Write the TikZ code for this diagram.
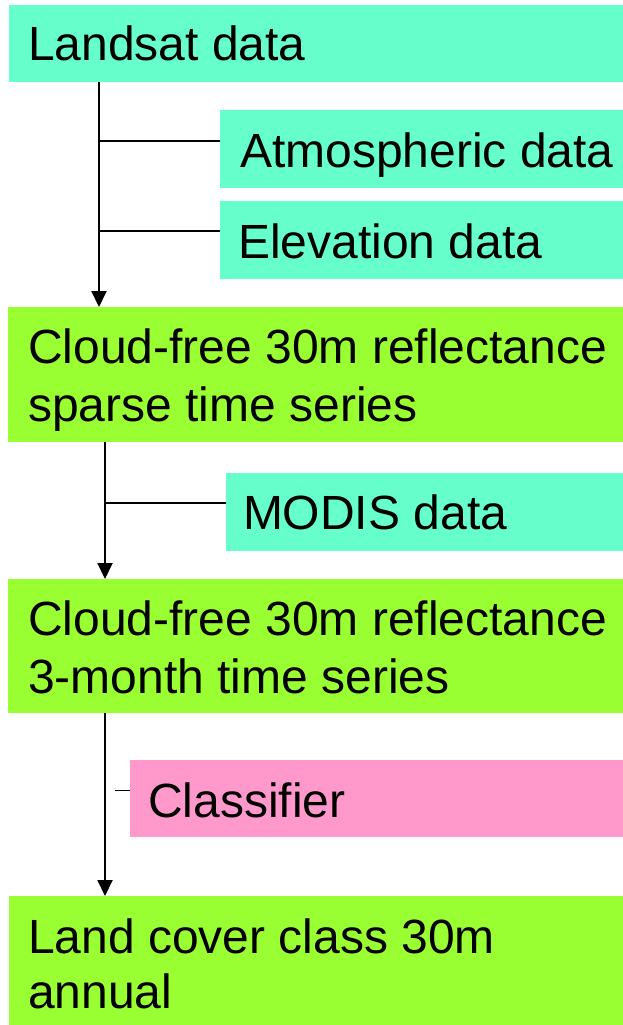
\documentclass[tikz,border=0pt]{standalone}
\usepackage{fontspec}
\setmainfont{Liberation Sans}
\usetikzlibrary{arrows.meta,calc}
\definecolor{aqua}{RGB}{102,255,204}
\definecolor{limec}{RGB}{153,255,51}
\definecolor{pinkc}{RGB}{255,153,204}
\begin{document}
\begin{tikzpicture}[x=1pt,y=-1pt,
  box/.style={rectangle,inner sep=0pt,outer sep=0pt,anchor=north west,draw=none},
  txt/.style={anchor=base west,inner sep=0pt,outer sep=0pt,font=\fontsize{48}{57}\selectfont},
  arr/.style={line width=2pt,-{Triangle[length=16pt,width=15pt]}},
  conn/.style={line width=1.6pt}]
\useasboundingbox (0,0) rectangle (623,1025);
% boxes
\node[box,fill=aqua,minimum width=614pt,minimum height=77pt] (landsat) at (9,5) {};
\node[txt] (landsatT) at (28,61) {Landsat data};
\node[box,fill=aqua,minimum width=403pt,minimum height=78pt] (atm) at (220,110) {};
\node[txt] (atmT) at (240,167) {Atmospheric data};
\node[box,fill=aqua,minimum width=403pt,minimum height=78pt] (elev) at (220,201) {};
\node[txt] (elevT) at (238,258) {Elevation data};
\node[box,fill=limec,minimum width=615pt,minimum height=135pt] (cf1) at (8,307) {};
\node[txt] (cf1a) at (28,363) {Cloud-free 30m reflectance};
\node[txt] (cf1b) at (28,421) {sparse time series};
\node[box,fill=aqua,minimum width=397pt,minimum height=78pt] (modis) at (226,473) {};
\node[txt] (modisT) at (243,529) {MODIS data};
\node[box,fill=limec,minimum width=615pt,minimum height=134pt] (cf2) at (8,579) {};
\node[txt] (cf2a) at (28,635) {Cloud-free 30m reflectance};
\node[txt] (cf2b) at (28,693) {3-month time series};
\node[box,fill=pinkc,minimum width=493pt,minimum height=77pt] (clf) at (130,760) {};
\node[txt] (clfT) at (148,817) {Classifier};
\node[box,fill=limec,minimum width=614pt,minimum height=129pt] (lc) at (9,896) {};
\node[txt] (lca) at (28,953) {Land cover class 30m};
\node[txt] (lcb) at (28,1008) {annual};
% connector axes
\coordinate (a1) at (99,0);
\coordinate (a2) at (105,0);
\coordinate (a3) at (115,0);
% connectors
\draw[arr] (landsat.south -| a1) -- (cf1.north -| a1);
\draw[conn] ($(atm.west)+(0,-8)$) -- ($(atm.west -| a1)+(0,-8)$);
\draw[conn] ($(elev.west)+(0,-9)$) -- ($(elev.west -| a1)+(0,-9)$);
\draw[arr] (cf1.south -| a2) -- (cf2.north -| a2);
\draw[conn] ($(modis.west)+(0,-9)$) -- ($(modis.west -| a2)+(0,-9)$);
\draw[arr] (cf2.south -| a2) -- (lc.north -| a2);
\draw[conn] ($(clf.west)+(0,-8)$) -- ($(clf.west -| a3)+(0,-8)$);
\end{tikzpicture}
\end{document}
